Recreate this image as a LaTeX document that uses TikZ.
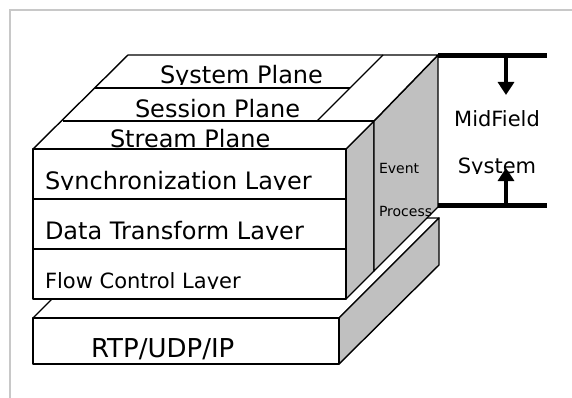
\documentclass[tikz,border=0pt]{standalone}
\usepackage{fontspec}
\setmainfont{DejaVu Sans}
\usetikzlibrary{arrows.meta}
\definecolor{facegray}{RGB}{192,192,192}
\definecolor{framegray}{RGB}{200,200,200}
\tikzset{
  face/.style={draw=black, line width=1.4pt, line join=round, fill=white},
  sideface/.style={face, fill=facegray},
  edgeline/.style={draw=black, line width=1.4pt},
  lbl/.style={anchor=base west, inner sep=0pt, outer sep=0pt, font=\fontsize{24}{28}\selectfont},
  clbl/.style={anchor=base, inner sep=0pt, outer sep=0pt, font=\fontsize{21}{25}\selectfont},
  smalllbl/.style={anchor=base west, inner sep=0pt, outer sep=0pt, font=\fontsize{14}{17}\selectfont},
  bar/.style={draw=black, line width=5pt},
  bigarrow/.style={draw=black, line width=4.5pt, -{Triangle[length=13pt,width=16pt]}},
}
\begin{document}
\begin{tikzpicture}[x=1pt,y=-1pt]
\useasboundingbox (0,0) rectangle (572,398);
% frame
\draw[framegray, line width=1.2pt] (10,398) -- (10,10) -- (572,10);

% base slab
\path[face] (33,318) -- (339,318) -- (439,218) -- (133,218) -- cycle;
\path[sideface] (339,318) -- (439,218) -- (439,265) -- (339,364) -- cycle;
\path[face] (33,318) rectangle (339,364);

% grey side faces
\path[sideface] (346,149) -- (374,121) -- (374,271) -- (346,299) -- cycle;
\path[sideface] (374,121) -- (438,55) -- (438,207) -- (374,271) -- cycle;

% top planes
\path[face] (128,55) -- (438,55) -- (374,121) -- (346,149) -- (33,149) -- cycle;
\draw[edgeline] (95,88) -- (350,88);
\draw[edgeline] (63,121) -- (374,121);
\draw[edgeline] (383,55) -- (317,121);

% front box
\path[face] (33,149) rectangle (346,299);
\draw[edgeline] (33,199) -- (346,199);
\draw[edgeline] (33,249) -- (346,249);

% labels (clipped at baseline as in the picture)
\begin{scope}\clip (150,40) rectangle (345,84.6);
  \node[lbl] (sysplane) at (160,84) {System Plane};\end{scope}
\begin{scope}\clip (120,90) rectangle (330,118.1);
  \node[lbl] (sesplane) at (135,117.5) {Session Plane};\end{scope}
\begin{scope}\clip (100,122) rectangle (300,148.5);
  \node[lbl] (strplane) at (110,148) {Stream Plane};\end{scope}
\begin{scope}\clip (35,150) rectangle (344,189.6);
  \node[lbl] (sync) at (45,189) {Synchronization Layer};\end{scope}
\begin{scope}\clip (35,200) rectangle (344,239.6);
  \node[lbl] (data) at (45,239) {Data Transform Layer};\end{scope}
\begin{scope}\clip (35,250) rectangle (344,288.6);
  \node[lbl, font=\fontsize{21}{25}\selectfont] (flow) at (45,288) {Flow Control Layer};\end{scope}
\node[lbl, font=\fontsize{26}{30}\selectfont] (rtp) at (91,357) {RTP/UDP/IP};

\node[smalllbl] (event) at (379,174) {Event};
\node[smalllbl] (process) at (379,216) {Process};

\node[clbl] (midfield) at (497,127) {MidField};
\begin{scope}\clip (450,140) rectangle (545,173.6);
  \node[clbl] (system) at (497,173) {System};\end{scope}

% bars and arrows
\coordinate (topbarL) at (438,56);
\coordinate (topbarR) at (547,56);
\coordinate (botbarL) at (438,205.5);
\coordinate (botbarR) at (547,205.5);
\coordinate (downstart) at (506,56);
\coordinate (downtip) at (506,95);
\coordinate (upstart) at (506,205.5);
\coordinate (uptip) at (506,168);
\draw[bar] (topbarL) -- (topbarR);
\draw[bar] (botbarL) -- (botbarR);
\draw[bigarrow] (downstart) -- (downtip);
\draw[bigarrow] (upstart) -- (uptip);
\end{tikzpicture}
\end{document}
